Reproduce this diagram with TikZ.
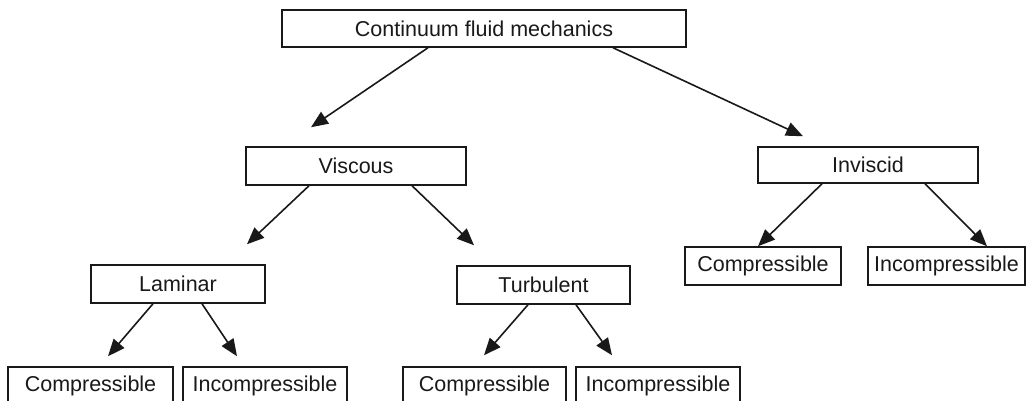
\documentclass[tikz,border=0pt]{standalone}
\usepackage{fontspec}
\setmainfont{Liberation Sans}
\usetikzlibrary{arrows.meta}
\begin{document}
\begin{tikzpicture}[x=1pt,y=-1pt,
  box/.style={draw=black!90,line width=1.5pt,inner sep=0pt,minimum height=38pt,
    font=\fontsize{21.5}{25}\selectfont,text=black!90},
  arr/.style={draw=black!90,line width=1.6pt,-{Triangle[length=17pt,width=14pt]}}]
\clip (0,0) rectangle (1027,401);
\fill[white] (0,0) rectangle (1027,401);
% nodes
\node[box,minimum width=404pt,minimum height=37pt] (top) at (484,28.5) {Continuum fluid mechanics};
\node[box,minimum width=220pt] (visc) at (356,166) {Viscous};
\node[box,minimum width=220pt,minimum height=36pt] (invi) at (868,165) {Inviscid};
\node[box,minimum width=174pt] (lam) at (178,284) {Laminar};
\node[box,minimum width=173pt] (turb) at (543.5,285) {Turbulent};
\node[box,minimum width=156pt] (ci) at (763,266) {Compressible};
\node[box,minimum width=157pt] (ii) at (946.5,266) {Incompressible};
\node[box,minimum width=165pt] (cl) at (90.5,386) {Compressible};
\node[box,minimum width=164pt] (il) at (265,386) {Incompressible};
\node[box,minimum width=163pt] (ct) at (484.5,386) {Compressible};
\node[box,minimum width=164pt] (it) at (658,386) {Incompressible};
% connectors
\draw[arr] ([xshift=-56]top.south) -- ([shift={(-45,-19)}]visc.north);
\draw[arr] ([xshift=129]top.south) -- ([shift={(-65,-10)}]invi.north);
\draw[arr] ([xshift=-47]visc.south) -- ([shift={(69,-20)}]lam.north);
\draw[arr] ([xshift=56]visc.south) -- ([shift={(-69.5,-20)}]turb.north);
\draw[arr] ([xshift=-46]invi.south) -- ([shift={(-5,0)}]ci.north);
\draw[arr] ([xshift=57]invi.south) -- ([shift={(40.5,0)}]ii.north);
\draw[arr] ([xshift=-25]lam.south) -- ([shift={(17.5,-10)}]cl.north);
\draw[arr] ([xshift=24]lam.south) -- ([shift={(-28,-10)}]il.north);
\draw[arr] ([xshift=-15.5]turb.south) -- ([shift={(-0.5,-11)}]ct.north);
\draw[arr] ([xshift=32.5]turb.south) -- ([shift={(-46,-11)}]it.north);
\end{tikzpicture}
\end{document}
